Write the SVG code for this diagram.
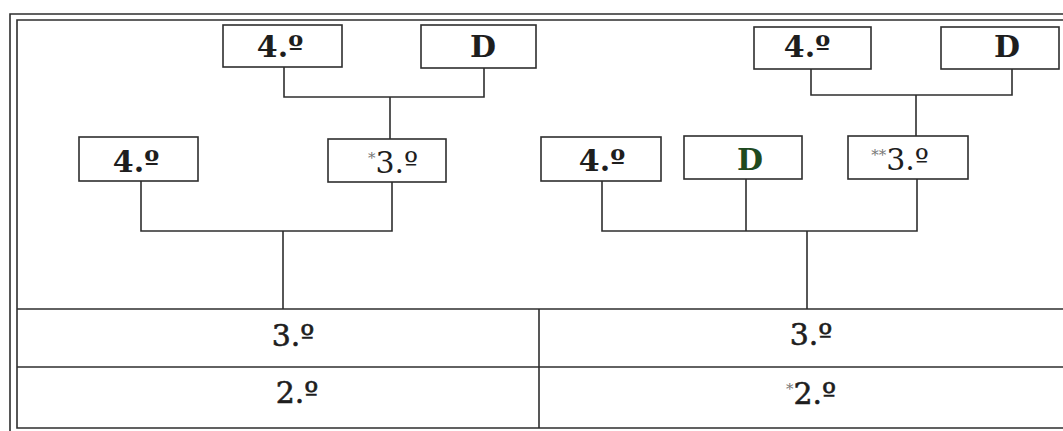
<svg xmlns="http://www.w3.org/2000/svg" width="1063" height="431" viewBox="0 0 1063 431">
<style>
.frame{fill:none;stroke:#2e2e2e;stroke-width:1.6}
.box{fill:#fff;stroke:#2e2e2e;stroke-width:1.6}
.con{fill:none;stroke:#2e2e2e;stroke-width:1.6}
.t{font-family:"DejaVu Serif","Liberation Serif",serif;font-size:30px;fill:#1e1e1e;text-anchor:middle}
.b{font-weight:bold}
.n{font-weight:normal}
.m{font-weight:normal;stroke:#1e1e1e;stroke-width:0.6}
.star{font-size:15px;fill:#777;stroke:none}
</style>
<rect width="1063" height="431" fill="#fff"/>
<g id="frame">
<path class="frame" d="M1063,14 H10 V431"/>
<path class="frame" d="M1063,20 H17 V428 H1063"/>
</g>
<g id="table">
<line class="frame" x1="17" y1="309" x2="1063" y2="309"/>
<line class="frame" x1="17" y1="367" x2="1063" y2="367"/>
<line class="frame" x1="539" y1="309" x2="539" y2="428"/>
</g>
<g id="connectors">
<path class="con" d="M284,67 V97 H484 V68 M390,97 V139"/>
<path class="con" d="M141,181 V231 H392 V182 M283,231 V309"/>
<path class="con" d="M811,69 V95 H1012 V69 M916,95 V136"/>
<path class="con" d="M602,181 V231 H917 V179 M746,179 V231 M807,231 V309"/>
</g>
<g id="n-top-l-4">
<rect class="box" x="223" y="25" width="119" height="42"/>
<text class="t b" x="280" y="57">4.º</text>
</g>
<g id="n-top-l-D">
<rect class="box" x="421" y="25" width="115" height="43"/>
<text class="t b" x="483" y="57">D</text>
</g>
<g id="n-mid-l-4">
<rect class="box" x="79" y="137" width="119" height="44"/>
<text class="t b" x="136" y="172">4.º</text>
</g>
<g id="n-mid-l-3">
<rect class="box" x="328" y="139" width="118" height="43"/>
<text class="t n" x="393" y="173"><tspan class="star" dy="-10">*</tspan><tspan dy="10">3.º</tspan></text>
</g>
<g id="n-top-r-4">
<rect class="box" x="754" y="27" width="117" height="42"/>
<text class="t b" x="807" y="57">4.º</text>
</g>
<g id="n-top-r-D">
<rect class="box" x="941" y="27" width="118" height="42"/>
<text class="t b" x="1007" y="57">D</text>
</g>
<g id="n-mid-r-4">
<rect class="box" x="541" y="137" width="120" height="44"/>
<text class="t b" x="602" y="171">4.º</text>
</g>
<g id="n-mid-r-D">
<rect class="box" x="684" y="136" width="118" height="43"/>
<text class="t b" x="750" y="170" style="fill:#1f4a1f">D</text>
</g>
<g id="n-mid-r-3">
<rect class="box" x="848" y="136" width="120" height="43"/>
<text class="t n" x="900" y="170"><tspan class="star" dy="-10">**</tspan><tspan dy="10">3.º</tspan></text>
</g>
<g id="cell-l-3"><text class="t m" x="293" y="346">3.º</text></g>
<g id="cell-l-2"><text class="t m" x="297" y="403">2.º</text></g>
<g id="cell-r-3"><text class="t m" x="811" y="345">3.º</text></g>
<g id="cell-r-2"><text class="t m" x="811" y="404"><tspan class="star" dy="-10">*</tspan><tspan dy="10">2.º</tspan></text></g>
</svg>
